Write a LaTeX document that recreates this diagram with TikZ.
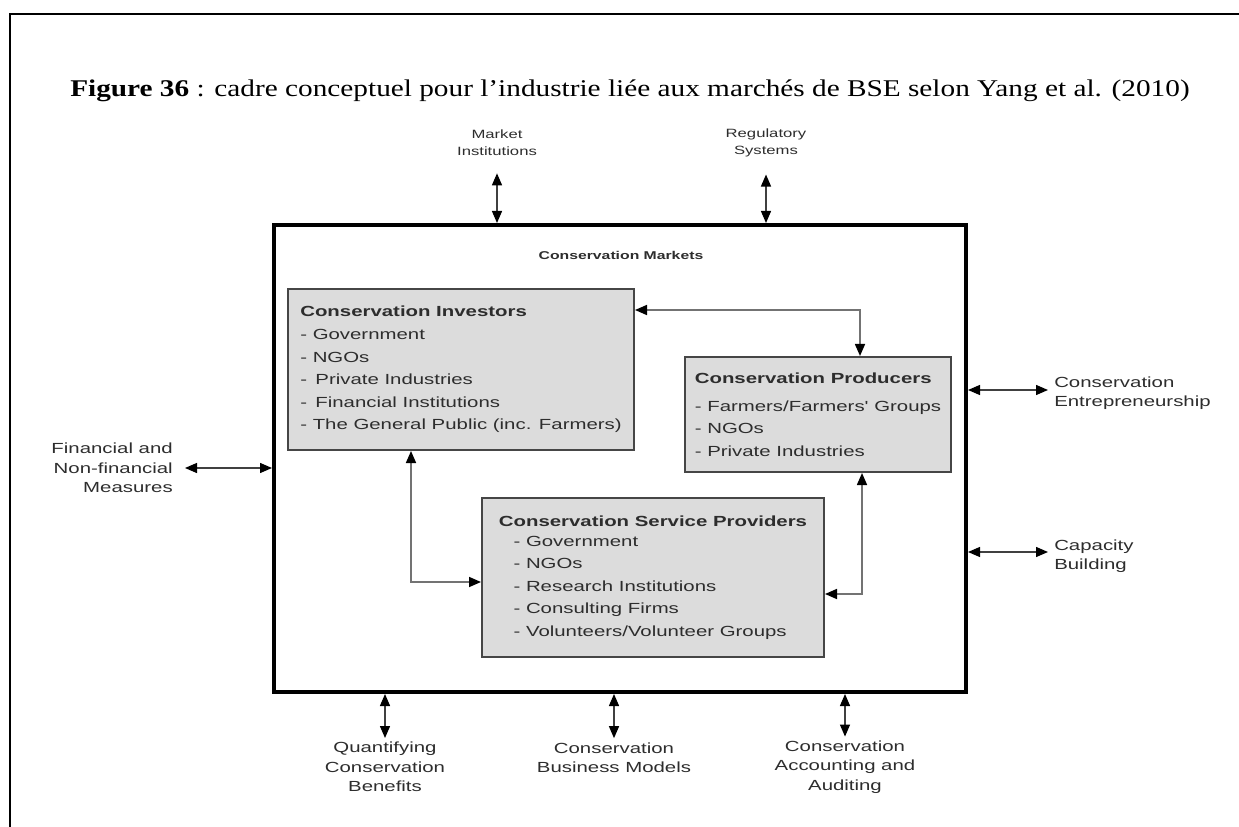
\documentclass[tikz,border=0pt]{standalone}
\usepackage{fontspec}
\setmainfont{Liberation Serif}
\newfontfamily\titlefont{Liberation Serif}[FakeStretch=1.22]
\newfontfamily\diagfont{Liberation Sans}[FakeStretch=1.39]
\usepackage{tikz}
\usetikzlibrary{arrows.meta,calc,positioning}
\definecolor{boxfill}{RGB}{220,220,220}
\definecolor{boxline}{RGB}{70,70,70}
\definecolor{txtgray}{RGB}{45,45,45}
\definecolor{linkgray}{RGB}{115,115,115}
\tikzstyle{actor} = [draw=boxline,line width=1.5pt,fill=boxfill,align=left,inner sep=0pt,text=txtgray,font=\diagfont\fontsize{11}{16.9}\selectfont]
\tikzstyle{outside} = [align=center,inner sep=0pt,text=txtgray,font=\diagfont\fontsize{11}{14.5}\selectfont]
\tikzstyle{smallout} = [outside,font=\diagfont\fontsize{9}{13}\selectfont]
\tikzstyle{both} = [{Triangle[length=9pt,width=7.5pt,color=black]}-{Triangle[length=9pt,width=7.5pt,color=black]},draw=black!75,line width=1pt]
\tikzstyle{link} = [both,draw=linkgray,line width=1.2pt]

\begin{document}
\begin{tikzpicture}[x=0.75pt,y=0.75pt,yscale=-1,xscale=1]
\useasboundingbox (0,0) rectangle (1239,827);

%frame of the page
\draw [line width=1.5pt] (9.5,827) -- (9.5,14) -- (1239,14);

% Title
\node (title) [anchor=base west,inner sep=0pt,font=\titlefont\fontsize{18}{22}\selectfont] at (70,97) {\textbf{Figure 36} : cadre conceptuel pour l’industrie liée aux marchés de BSE selon Yang et al. (2010)};

%Markets box
\node (mkt) [draw,line width=3pt,minimum width=519pt,minimum height=350.25pt,inner sep=0pt] at (620,458.5) {};
\node (mkttitle) [inner sep=0pt,text=txtgray,font=\diagfont\bfseries\fontsize{8.5}{10}\selectfont] at (621,255) {Conservation Markets};

%Actors
\node (inv) [actor,minimum width=259.5pt,minimum height=120.75pt] at (461,369.5) {\textbf{Conservation Investors}\\
- Government\\
- NGOs\\
-\hspace{2pt} Private Industries\\
-\hspace{2pt} Financial Institutions\\
- The General Public (inc. Farmers)};
\node (prod) [actor,minimum width=199.5pt,minimum height=86.25pt] at (818,414.5) {\textbf{Conservation Producers}\\[4pt]
- Farmers/Farmers' Groups\\
- NGOs\\
- Private Industries};
\node (serv) [actor,minimum width=256.5pt,minimum height=119.25pt] at (653,577.5) {\textbf{Conservation Service Providers}\\[-2pt]
\hspace*{11pt}- Government\\
\hspace*{11pt}- NGOs\\
\hspace*{11pt}- Research Institutions\\
\hspace*{11pt}- Consulting Firms\\
\hspace*{11pt}- Volunteers/Volunteer Groups};

%links between actors
\draw [link] ($(inv.north east)+(0,22)$) -| ($(prod.north)+(42,0)$);
\draw [link] ($(inv.south)+(-50,0)$) |- ($(serv.west)+(0,4.5)$);
\draw [link] ($(prod.south)+(44,0)$) |- ($(serv.east)+(0,16.5)$);

% Outside labels
\node (mi) [smallout] at (497,143) {Market\\Institutions};
\node (rs) [smallout] at (766,143) {Regulatory\\Systems};
\node (fin) [outside,align=right,anchor=east] at (173,468) {Financial and\\Non-financial\\Measures};
\node (ent) [outside,align=left,anchor=west] at (1054,393) {Conservation\\Entrepreneurship};
\node (cap) [outside,align=left,anchor=west] at (1054,556) {Capacity\\Building};
\node (qcb) [outside] at (385,767) {Quantifying\\Conservation\\Benefits};
\node (cbm) [outside] at (614,757.5) {Conservation\\Business Models};
\node (caa) [outside] at (845,767) {Conservation\\Accounting and\\Auditing};

\coordinate (entin) at ($(ent.west)+(-6,-3)$);
\coordinate (capin) at ($(cap.west)+(-6,-4)$);
\coordinate (miin) at ($(mi.south)+(0,17)$);
\coordinate (rsin) at ($(rs.south)+(0,17)$);
\coordinate (qcbin) at ($(qcb.north)+(0,-4)$);
\coordinate (cbmin) at ($(cbm.north)+(0,-4)$);
\coordinate (caain) at ($(caa.north)+(0,-4)$);

%arrows to the markets box
\draw [both] (miin) -- (miin |- mkt.north);
\draw [both] (rsin) -- (rsin |- mkt.north);
\draw [both] ([xshift=9pt]fin.east) -- (fin.east -| mkt.west);
\draw [both] (mkt.east |- entin) -- (entin);
\draw [both] (mkt.east |- capin) -- (capin);
\draw [both] (qcbin |- mkt.south) -- (qcbin);
\draw [both] (cbmin |- mkt.south) -- (cbmin);
\draw [both] (caain |- mkt.south) -- (caain);

\end{tikzpicture}
\end{document}
